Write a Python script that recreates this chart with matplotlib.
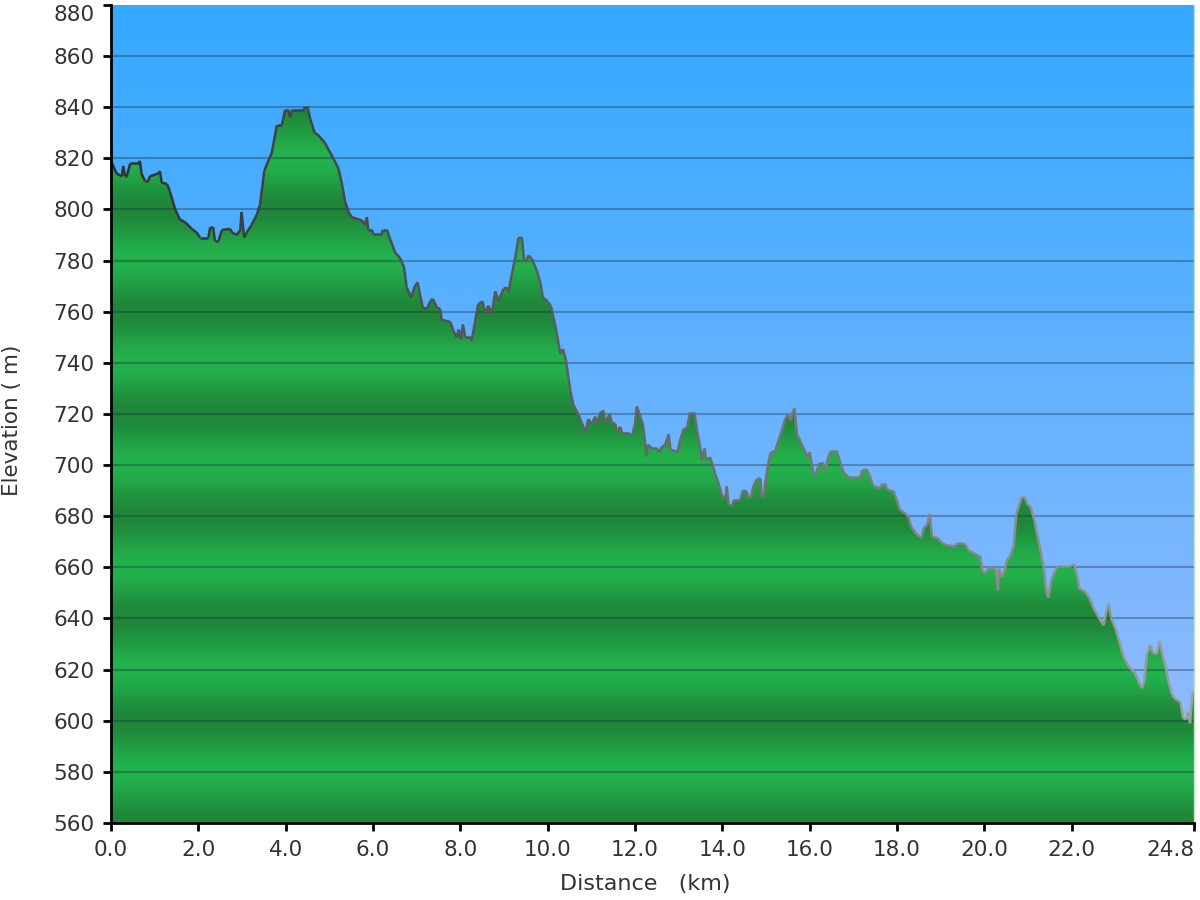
import numpy as np
import matplotlib
matplotlib.use("Agg")
import matplotlib.pyplot as plt
from matplotlib.collections import LineCollection
from matplotlib.patches import Polygon

# elevation profile (km, m)
distance_km = [
    0.00, 0.13, 0.25, 0.28, 0.32, 0.36, 0.44, 0.63, 0.66, 0.70, 0.78, 0.85, 0.89, 1.08, 1.12,
    1.16, 1.28, 1.35, 1.47, 1.58, 1.70, 1.85, 1.96, 2.04, 2.23, 2.27, 2.34, 2.38, 2.46, 2.54,
    2.73, 2.77, 2.88, 2.96, 2.99, 3.05, 3.11, 3.22, 3.34, 3.41, 3.51, 3.60, 3.68, 3.80, 3.91,
    3.99, 4.06, 4.10, 4.15, 4.41, 4.44, 4.50, 4.56, 4.66, 4.75, 4.90, 5.09, 5.21, 5.30, 5.36,
    5.44, 5.51, 5.74, 5.82, 5.86, 5.89, 5.97, 6.01, 6.20, 6.22, 6.32, 6.39, 6.51, 6.62, 6.71,
    6.77, 6.87, 6.96, 7.02, 7.06, 7.14, 7.23, 7.32, 7.37, 7.46, 7.54, 7.57, 7.65, 7.77, 7.84,
    7.92, 7.96, 8.01, 8.06, 8.11, 8.22, 8.26, 8.34, 8.41, 8.51, 8.57, 8.64, 8.72, 8.80, 8.87,
    8.99, 9.06, 9.10, 9.18, 9.26, 9.33, 9.41, 9.46, 9.51, 9.56, 9.64, 9.75, 9.83, 9.89, 9.98,
    10.07, 10.17, 10.29, 10.35, 10.42, 10.52, 10.59, 10.71, 10.78, 10.86, 10.93, 11.01, 11.09,
    11.12, 11.22, 11.28, 11.32, 11.42, 11.47, 11.55, 11.58, 11.66, 11.70, 11.81, 11.89, 11.94,
    12.00, 12.04, 12.12, 12.18, 12.23, 12.26, 12.29, 12.39, 12.50, 12.55, 12.61, 12.69, 12.77,
    12.81, 12.92, 12.97, 13.03, 13.11, 13.19, 13.26, 13.36, 13.42, 13.49, 13.53, 13.59, 13.63,
    13.72, 13.76, 13.84, 13.91, 13.99, 14.07, 14.10, 14.14, 14.22, 14.27, 14.41, 14.47, 14.55,
    14.60, 14.65, 14.71, 14.79, 14.87, 14.90, 14.94, 15.02, 15.10, 15.21, 15.29, 15.36, 15.44,
    15.51, 15.56, 15.62, 15.65, 15.71, 15.82, 15.94, 16.00, 16.09, 16.13, 16.23, 16.30, 16.36,
    16.43, 16.49, 16.62, 16.70, 16.78, 16.89, 17.16, 17.20, 17.31, 17.39, 17.45, 17.62, 17.66,
    17.73, 17.77, 17.85, 17.92, 18.00, 18.06, 18.19, 18.27, 18.32, 18.42, 18.50, 18.57, 18.61,
    18.69, 18.75, 18.80, 18.92, 19.03, 19.14, 19.34, 19.37, 19.44, 19.56, 19.64, 19.75, 19.83,
    19.91, 19.95, 20.02, 20.10, 20.25, 20.31, 20.33, 20.40, 20.46, 20.52, 20.59, 20.67, 20.73,
    20.81, 20.86, 20.94, 20.98, 21.05, 21.13, 21.24, 21.36, 21.42, 21.47, 21.53, 21.63, 21.70,
    21.97, 22.05, 22.12, 22.18, 22.29, 22.41, 22.50, 22.62, 22.73, 22.81, 22.85, 22.90, 23.00,
    23.11, 23.19, 23.31, 23.44, 23.53, 23.61, 23.66, 23.72, 23.80, 23.86, 23.95, 24.01, 24.07,
    24.15, 24.22, 24.30, 24.41, 24.49, 24.55, 24.63, 24.66, 24.71, 24.76, 24.80,
]
elevation_m = [
    819.0, 814.0, 813.0, 817.0, 813.0, 813.0, 818.0, 818.0, 819.0, 814.0, 811.0, 811.0, 813.0, 814.0, 815.0,
    810.5, 810.0, 807.0, 800.0, 796.0, 795.0, 792.4, 791.0, 789.0, 789.0, 793.0, 793.0, 787.6, 787.6, 792.0,
    792.4, 791.0, 790.0, 792.0, 799.0, 789.0, 791.0, 794.0, 798.0, 801.6, 815.0, 819.0, 822.0, 833.0, 833.0,
    839.0, 839.0, 836.0, 839.0, 839.0, 840.0, 840.0, 835.6, 830.0, 829.0, 826.0, 820.0, 816.0, 809.0, 803.0,
    799.0, 797.0, 795.7, 794.0, 797.0, 792.0, 792.0, 790.5, 790.5, 792.0, 792.0, 788.5, 783.0, 781.0, 777.4,
    769.5, 765.6, 770.0, 771.5, 768.0, 761.7, 761.0, 764.3, 765.0, 761.7, 761.0, 757.0, 756.5, 756.0, 752.5,
    750.0, 753.0, 749.3, 755.0, 750.0, 750.0, 748.6, 756.5, 763.0, 764.0, 759.3, 762.4, 759.3, 768.0, 764.3,
    769.0, 769.5, 767.6, 774.8, 781.3, 788.9, 789.0, 780.0, 780.0, 782.0, 780.6, 776.0, 771.5, 765.6, 764.3,
    762.4, 755.0, 743.4, 745.4, 740.8, 729.0, 723.5, 719.5, 716.6, 712.7, 718.0, 716.0, 719.0,
    716.0, 721.0, 721.0, 716.6, 720.0, 716.6, 716.0, 713.0, 715.0, 712.7, 712.7, 712.0, 712.0,
    716.0, 723.0, 719.0, 716.0, 708.8, 703.5, 708.0, 706.5, 706.5, 705.0, 707.0, 708.0, 712.0,
    706.0, 705.5, 705.0, 709.4, 714.0, 714.6, 720.5, 720.5, 713.4, 707.0, 702.0, 706.5, 702.0,
    703.0, 701.0, 696.3, 693.0, 688.0, 687.2, 691.8, 684.6, 684.0, 686.5, 686.5, 690.0, 689.8,
    687.2, 687.0, 691.8, 694.4, 694.8, 687.5, 687.5, 697.6, 704.8, 705.5, 710.0, 713.4, 718.0,
    720.0, 717.3, 721.0, 722.2, 712.0, 708.0, 703.5, 705.0, 696.3, 696.3, 701.0, 701.0, 697.6,
    703.5, 705.5, 705.5, 701.0, 697.0, 695.3, 695.3, 698.0, 698.3, 695.0, 691.8, 691.0, 692.7,
    692.7, 690.5, 690.0, 689.8, 686.0, 682.6, 681.0, 679.3, 676.0, 673.5, 672.0, 672.0, 675.4,
    676.7, 680.8, 672.0, 671.5, 669.5, 668.6, 668.2, 669.5, 669.5, 669.0, 666.5, 665.6, 664.7,
    664.3, 658.4, 657.8, 659.7, 659.5, 651.0, 659.5, 656.0, 658.7, 663.0, 664.3, 668.2, 680.7,
    685.0, 687.5, 687.2, 684.6, 684.0, 679.3, 670.4, 659.7, 650.5, 648.0, 655.2, 659.0, 660.4,
    660.4, 661.3, 657.0, 651.6, 650.8, 648.0, 644.0, 640.3, 637.3, 644.0, 645.7, 640.3, 636.0,
    629.7, 625.0, 621.0, 619.0, 615.3, 612.7, 615.3, 625.8, 629.7, 626.4, 626.4, 631.2, 626.4,
    621.0, 615.0, 610.0, 608.0, 607.5, 601.0, 600.6, 603.5, 599.0, 610.0, 611.4,
]

x_ticks = [0, 2, 4, 6, 8, 10, 12, 14, 16, 18, 20, 22, 24.8]
x_labels = ["0.0", "2.0", "4.0", "6.0", "8.0", "10.0", "12.0", "14.0", "16.0",
            "18.0", "20.0", "22.0", "24.8"]
y_ticks = list(range(560, 881, 20))

x_min, x_max = 0, 24.8
y_min, y_max = 560, 880

fig = plt.figure(figsize=(12, 9), dpi=100)
ax = fig.add_axes([0.0925, 0.0856, 0.9025, 0.9089])
ax.set_xlim(x_min, x_max)
ax.set_ylim(y_min, y_max)

# sky: vertical blue gradient
top = np.array([0x33, 0xa9, 0xff]) / 255
bottom = np.array([0x9c, 0xbd, 0xff]) / 255
t = np.linspace(0, 1, 256)[:, None]
sky = (top * (1 - t) + bottom * t)[:, None, :]
ax.imshow(sky, extent=[x_min, x_max, y_min, y_max], aspect="auto",
          origin="upper", zorder=0, interpolation="bilinear")

# terrain: banded green, clipped to the profile
h = np.linspace(y_min, y_max, 1200)
w = 0.5 * (1 - np.cos(2 * np.pi * (h - 600) / 40))
dark = np.array([31, 134, 58]) / 255
light = np.array([35, 178, 76]) / 255
band = (dark * (1 - w[:, None]) + light * w[:, None])[:, None, :]
im = ax.imshow(band, extent=[x_min, x_max, y_min, y_max], aspect="auto",
               origin="lower", zorder=1, interpolation="bilinear")

xs = np.array(distance_km)
ys = np.array(elevation_m)
verts = np.column_stack([np.r_[xs[0], xs, xs[-1]], np.r_[y_min, ys, y_min]])
poly = Polygon(verts, closed=True, facecolor="none", edgecolor="none",
               transform=ax.transData)
ax.add_patch(poly)
im.set_clip_path(poly)

# outline: dark on the left, fading to grey on the right
pts = np.column_stack([xs, ys]).reshape(-1, 1, 2)
segs = np.concatenate([pts[:-1], pts[1:]], axis=1)
f = (xs[:-1] / x_max)[:, None]
c0 = np.array([0.19, 0.19, 0.19])
c1 = np.array([0.62, 0.62, 0.62])
lc = LineCollection(segs, colors=c0 * (1 - f) + c1 * f, linewidths=1.8, zorder=3)
ax.add_collection(lc)

# grid
for yv in y_ticks[1:-1]:
    ax.axhline(yv, color="#1a2a3a", alpha=0.35, linewidth=1.5, zorder=2)

ax.set_xticks(x_ticks)
ax.set_xticklabels(x_labels)
ax.set_yticks(y_ticks)
ax.tick_params(axis="both", direction="out", length=6, width=2, color="black",
               labelsize=15.5, labelcolor="#333333", pad=6)
ax.get_xticklabels()[-1].set_horizontalalignment("right")
ax.get_yticklabels()[-1].set_verticalalignment("top")

ax.spines["top"].set_visible(False)
ax.spines["right"].set_color("#b8e8b8")
ax.spines["right"].set_linewidth(1)
for s in ["left", "bottom"]:
    ax.spines[s].set_linewidth(2)
    ax.spines[s].set_color("black")
    ax.spines[s].set_zorder(5)

fig.text(12 / 1200, 1 - 420 / 900, "Elevation ( m)", rotation=90, ha="center",
         va="center", fontsize=15.5, color="#333333")
fig.text(645 / 1200, 1 - 884 / 900, "Distance   (km)", ha="center", va="center",
         fontsize=16, color="#333333")

fig.savefig("out.png", dpi=100)
